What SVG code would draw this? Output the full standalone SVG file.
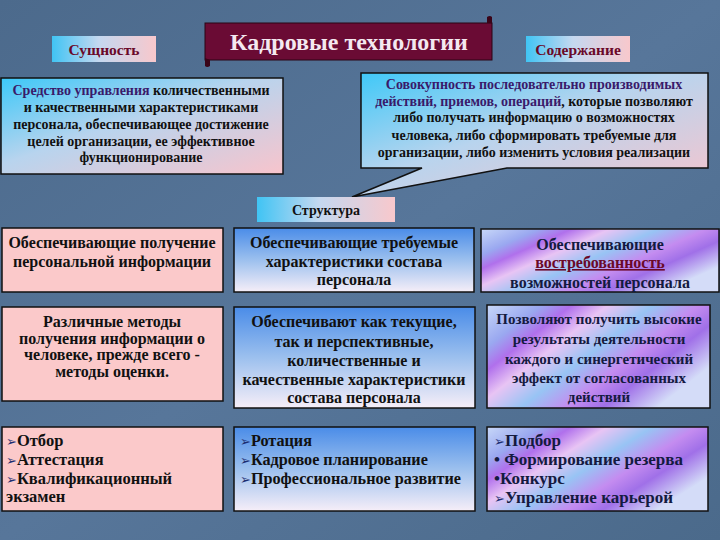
<svg xmlns="http://www.w3.org/2000/svg" width="720" height="540" viewBox="0 0 720 540" font-family="'Liberation Serif', 'Times New Roman', 'DejaVu Serif', serif">
<defs>
<linearGradient id="bg" x1="0" y1="0" x2="1" y2="1">
<stop offset="0" stop-color="#4c6a8c"/><stop offset="0.5" stop-color="#57769a"/><stop offset="1" stop-color="#4b6a8b"/>
</linearGradient>
<linearGradient id="cp" x1="0" y1="0" x2="1" y2="1">
<stop offset="0" stop-color="#3cc8f8"/><stop offset="0.45" stop-color="#b8d4ee"/><stop offset="1" stop-color="#f8c4cc"/>
</linearGradient>
<linearGradient id="lbl" x1="0" y1="0" x2="1" y2="0">
<stop offset="0" stop-color="#40c4f4"/><stop offset="0.45" stop-color="#c4d8f0"/><stop offset="1" stop-color="#f8c8cc"/>
</linearGradient>
<linearGradient id="mid" x1="0" y1="0" x2="0" y2="1">
<stop offset="0" stop-color="#4a8ce8"/><stop offset="0.5" stop-color="#9cc0ee"/><stop offset="1" stop-color="#f6eef8"/>
</linearGradient>
<linearGradient id="iri" x1="0" y1="0" x2="1" y2="0.6">
<stop offset="0" stop-color="#c8d8f8"/><stop offset="0.18" stop-color="#9aa8f0"/><stop offset="0.28" stop-color="#b070ec"/><stop offset="0.4" stop-color="#e8c4f4"/><stop offset="0.55" stop-color="#98c4f4"/><stop offset="0.7" stop-color="#c48cf0"/><stop offset="0.82" stop-color="#a070e8"/><stop offset="1" stop-color="#d4dcf8"/>
</linearGradient>
<style>
text{font-family:'Liberation Serif','Times New Roman','DejaVu Serif',serif;font-weight:bold;fill:#111;}
.c{text-anchor:middle;}
.box{stroke:#111;stroke-width:1.5;}
.pink{fill:#fbc9ca;}
.mid{fill:url(#mid);}
.iri{fill:url(#iri);}
.ar{font-family:'DejaVu Sans',sans-serif;font-size:13px;fill:#1c2c70;font-weight:normal;}
.pu{fill:#3a1a6a;}
.nv{fill:#141a40;}
.red{fill:#6a0828;}
</style>
</defs>
<rect width="720" height="540" fill="url(#bg)"/>

<g id="title">
<rect x="205" y="23" width="287" height="37" fill="#6a0b34" stroke="#2a0414" stroke-width="1"/>
<path d="M205 58 L205 66 Q207 68 210 66 L210 60 Z" fill="#3a0418"/>
<path d="M487 23 L487 17 Q490 15 492 17 L492 23 Z" fill="#3a0418"/>
<text class="c" x="349" y="50" font-size="24" style="fill:#f4e8f0">Кадровые технологии</text>
</g>

<g id="essence-label">
<rect x="52" y="36" width="104" height="26" fill="url(#lbl)"/>
<text class="c red" x="104" y="55" font-size="15.5">Сущность</text>
</g>

<g id="content-label">
<rect x="526" y="36" width="104" height="26" fill="url(#lbl)"/>
<text class="c red" x="578" y="55" font-size="15.5">Содержание</text>
</g>

<g id="essence">
<rect class="box" x="1" y="78" width="282" height="96" fill="url(#cp)"/>
<text class="c" font-size="14" x="141"><tspan x="141" y="95"><tspan class="pu">Средство управления</tspan> количественными</tspan><tspan x="141" y="112">и качественными характеристиками</tspan><tspan x="141" y="129">персонала, обеспечивающее достижение</tspan><tspan x="141" y="146">целей организации, ее эффективное</tspan><tspan x="141" y="162">функционирование</tspan></text>
</g>

<g id="content">
<path class="box" d="M361 73 H708 V168 H507 L352 197 L422 168 H361 Z" fill="url(#cp)"/>
<text class="c" font-size="14" x="534"><tspan x="534" y="89" class="pu">Совокупность последовательно производимых</tspan><tspan x="534" y="106"><tspan class="pu">действий, приемов, операций</tspan>, которые позволяют</tspan><tspan x="534" y="122">либо получать информацию о возможностях</tspan><tspan x="534" y="140">человека, либо сформировать требуемые для</tspan><tspan x="534" y="157">организации, либо изменить условия реализации</tspan></text>
</g>

<g id="structure">
<rect x="257" y="197" width="138" height="25" fill="url(#lbl)"/>
<text class="c" x="326" y="215" font-size="14">Структура</text>
</g>

<g id="r1c1">
<rect class="box pink" x="2" y="228" width="221" height="64"/>
<text class="c" font-size="16"><tspan x="112" y="248">Обеспечивающие получение</tspan><tspan x="112" y="267">персональной информации</tspan></text>
</g>
<g id="r1c2">
<rect class="box mid" x="234" y="228" width="240" height="64"/>
<text class="c" font-size="16"><tspan x="354" y="248">Обеспечивающие требуемые</tspan><tspan x="354" y="267">характеристики состава</tspan><tspan x="354" y="285">персонала</tspan></text>
</g>
<g id="r1c3">
<rect class="box iri" x="481" y="229" width="238" height="63"/>
<text class="c" font-size="16"><tspan x="600" y="250" class="nv">Обеспечивающие</tspan><tspan x="600" y="268" class="red" text-decoration="underline">востребованность</tspan><tspan x="600" y="288" class="nv">возможностей персонала</tspan></text>
</g>

<g id="r2c1">
<rect class="box pink" x="2" y="307" width="221" height="94"/>
<text class="c" font-size="16"><tspan x="112" y="327">Различные методы</tspan><tspan x="112" y="344">получения информации о</tspan><tspan x="112" y="360">человеке, прежде всего -</tspan><tspan x="112" y="377">методы оценки.</tspan></text>
</g>
<g id="r2c2">
<rect class="box mid" x="234" y="307" width="241" height="101"/>
<text class="c" font-size="16"><tspan x="354" y="327">Обеспечивают как текущие,</tspan><tspan x="354" y="347">так и перспективные,</tspan><tspan x="354" y="366">количественные и</tspan><tspan x="354" y="385">качественные характеристики</tspan><tspan x="354" y="403">состава персонала</tspan></text>
</g>
<g id="r2c3">
<rect class="box iri" x="487" y="305" width="223" height="103"/>
<text class="c nv" font-size="15"><tspan x="599" y="324">Позволяют получить высокие</tspan><tspan x="599" y="344">результаты деятельности</tspan><tspan x="599" y="364">каждого и синергетический</tspan><tspan x="599" y="383">эффект от согласованных</tspan><tspan x="599" y="402">действий</tspan></text>
</g>

<g id="r3c1">
<rect class="box pink" x="2" y="427" width="221" height="84"/>
<text font-size="16.5"><tspan x="6" y="446"><tspan class="ar">➢</tspan>Отбор</tspan><tspan x="6" y="465"><tspan class="ar">➢</tspan>Аттестация</tspan><tspan x="6" y="484"><tspan class="ar">➢</tspan>Квалификационный</tspan><tspan x="6" y="502">экзамен</tspan></text>
</g>
<g id="r3c2">
<rect class="box mid" x="234" y="427" width="241" height="84"/>
<text font-size="16.2"><tspan x="240" y="446"><tspan class="ar">➢</tspan>Ротация</tspan><tspan x="240" y="465"><tspan class="ar">➢</tspan>Кадровое планирование</tspan><tspan x="240" y="484"><tspan class="ar">➢</tspan>Профессиональное развитие</tspan></text>
</g>
<g id="r3c3">
<rect class="box iri" x="487" y="427" width="221" height="84"/>
<text class="nv" font-size="17"><tspan x="494" y="446"><tspan class="ar">➢</tspan>Подбор</tspan><tspan x="494" y="465">• Формирование резерва</tspan><tspan x="494" y="484">•Конкурс</tspan><tspan x="494" y="503"><tspan class="ar">➢</tspan>Управление карьерой</tspan></text>
</g>

<g id="connectors"></g>
</svg>
